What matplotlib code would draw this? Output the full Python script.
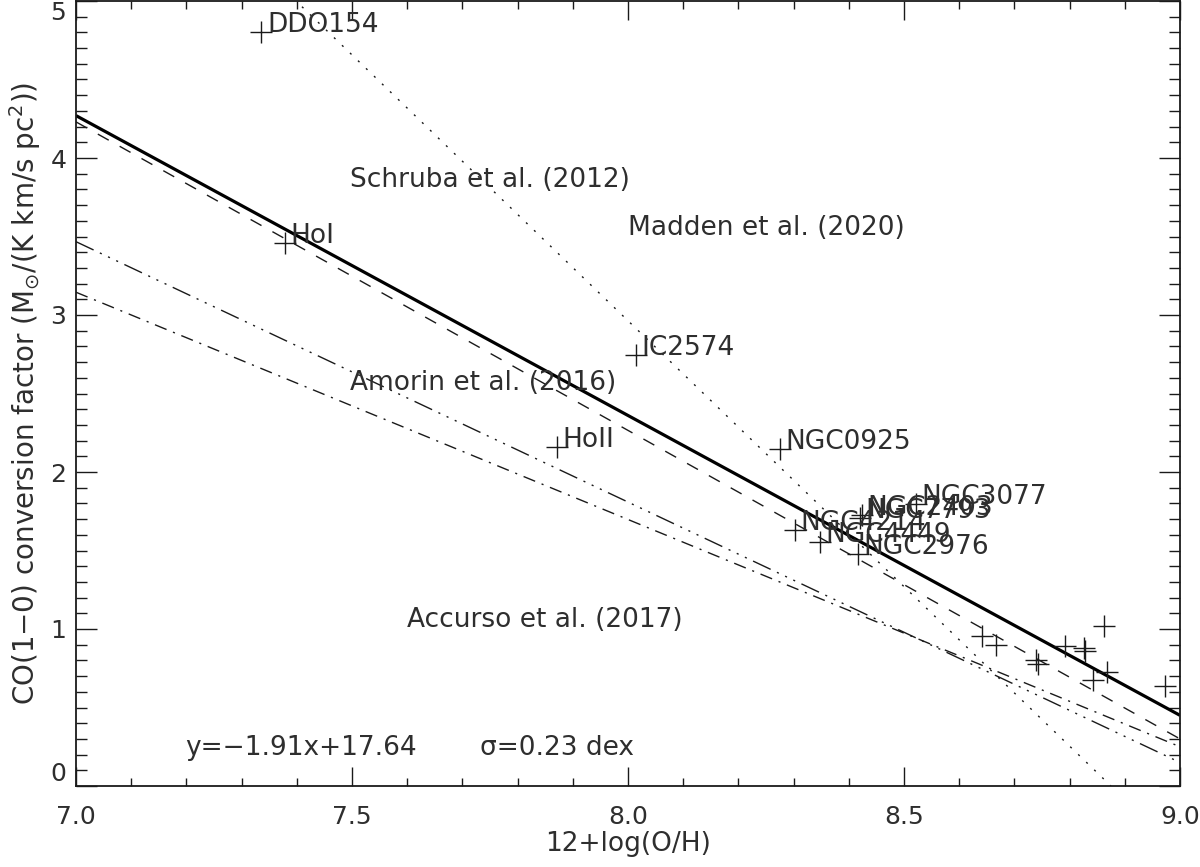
import matplotlib
matplotlib.use("Agg")
import matplotlib.pyplot as plt
from matplotlib.ticker import MultipleLocator

# ---- data ----
gal_names = ["DDO154", "HoI", "IC2574", "HoII", "NGC0925", "NGC4214", "NGC4449",
             "NGC2976", "NGC7793", "NGC2403", "NGC3077"]
gal_x = [7.336, 7.379, 8.014, 7.871, 8.275, 8.303, 8.347, 8.417, 8.420, 8.424, 8.522]
gal_y = [4.80, 3.46, 2.745, 2.16, 2.146, 1.631, 1.555, 1.478, 1.707, 1.726, 1.796]

other_x = [8.641, 8.667, 8.739, 8.742, 8.792, 8.826, 8.828, 8.862, 8.843, 8.867, 8.973]
other_y = [0.955, 0.898, 0.80, 0.78, 0.892, 0.877, 0.862, 1.019, 0.675, 0.728, 0.637]

fit_x = [7.0, 9.0]
fit_y = [-1.91 * 7.0 + 17.64, -1.91 * 9.0 + 17.64]

schruba_x = [7.0, 9.0]
schruba_y = [4.23, 0.30]
madden_x = [7.0, 8.875]
madden_y = [6.35, 0.0]
amorin_x = [7.0, 9.0]
amorin_y = [3.467, 0.15]
accurso_x = [7.0, 9.0]
accurso_y = [3.145, 0.25]

model_labels = ["Schruba et al. (2012)", "Madden et al. (2020)",
                "Amorin et al. (2016)", "Accurso et al. (2017)"]
model_label_x = [7.496, 8.0, 7.496, 7.60]
model_label_y = [3.86, 3.554, 2.567, 1.057]

xticks = [7.0, 7.5, 8.0, 8.5, 9.0]
xtick_labels = ["7.0", "7.5", "8.0", "8.5", "9.0"]
yticks = [0, 1, 2, 3, 4, 5]

# ---- figure ----
plt.rcParams['font.family'] = ['DejaVu Sans']
plt.rcParams['mathtext.fontset'] = 'dejavusans'
fig = plt.figure(figsize=(12, 8.67), dpi=100)
ax = fig.add_axes([76 / 1200, 81 / 867, 1104 / 1200, 785 / 867])

tcol = '#2e2e2e'
lcol = '#1a1a1a'
fs = 19

ax.plot(fit_x, fit_y, color='black', lw=2.3, solid_capstyle='butt')
ax.plot(schruba_x, schruba_y, color=lcol, lw=1.0, dashes=(9, 9))
ax.plot(madden_x, madden_y, color=lcol, lw=1.0, dashes=(1.5, 6.5))
ax.plot(amorin_x, amorin_y, color=lcol, lw=1.0,
        dashes=(14, 5, 1.5, 5, 1.5, 5, 1.5, 5))
ax.plot(accurso_x, accurso_y, color=lcol, lw=1.0, dashes=(9, 5, 1.5, 5))

ax.plot(gal_x, gal_y, ls='none', marker='+', ms=16, mew=1.0, color=lcol)
ax.plot(other_x, other_y, ls='none', marker='+', ms=16, mew=1.0, color=lcol)

for name, x, y in zip(gal_names, gal_x, gal_y):
    ax.annotate(name, (x, y), xytext=(4, 0), textcoords='offset points',
                ha='left', va='baseline', fontsize=fs, color=tcol)

for lab, x, y in zip(model_labels, model_label_x, model_label_y):
    ax.text(x, y, lab, ha='left', va='center', fontsize=fs, color=tcol)

ax.text(7.197, 0.242, "y=\u22121.91x+17.64", ha='left', va='center',
        fontsize=fs, color=tcol)
ax.text(7.732, 0.242, "\u03c3=0.23 dex", ha='left', va='center',
        fontsize=fs, color=tcol)

ax.set_xlim(7.0, 9.0)
ax.set_ylim(0.0, 5.0)
ax.set_xticks(xticks)
ax.set_xticklabels(xtick_labels)
ax.set_yticks(yticks)
ax.xaxis.set_minor_locator(MultipleLocator(0.1))
ax.yaxis.set_minor_locator(MultipleLocator(0.1))
ax.tick_params(which='both', direction='in', top=True, right=True,
               colors=lcol, labelcolor=tcol, labelsize=18, width=1.0)
ax.tick_params(axis='x', which='major', length=14, pad=14)
ax.tick_params(axis='x', which='minor', length=6)
ax.tick_params(axis='y', which='major', length=15, pad=7)
ax.tick_params(axis='y', which='minor', length=8)
for sp in ax.spines.values():
    sp.set_linewidth(1.3)
    sp.set_color(lcol)

ylabs = ax.get_yticklabels()
ylabs[0].set_va('bottom')
ylabs[-1].set_va('top')

ax.set_xlabel("12+log(O/H)", fontsize=19, color=tcol, labelpad=1)
ax.set_ylabel(r"CO(1$-$0) conversion factor (M$_{\odot}$/(K km/s pc$^2$))",
              fontsize=20, color=tcol, labelpad=5)

fig.savefig("out.png", dpi=100)
